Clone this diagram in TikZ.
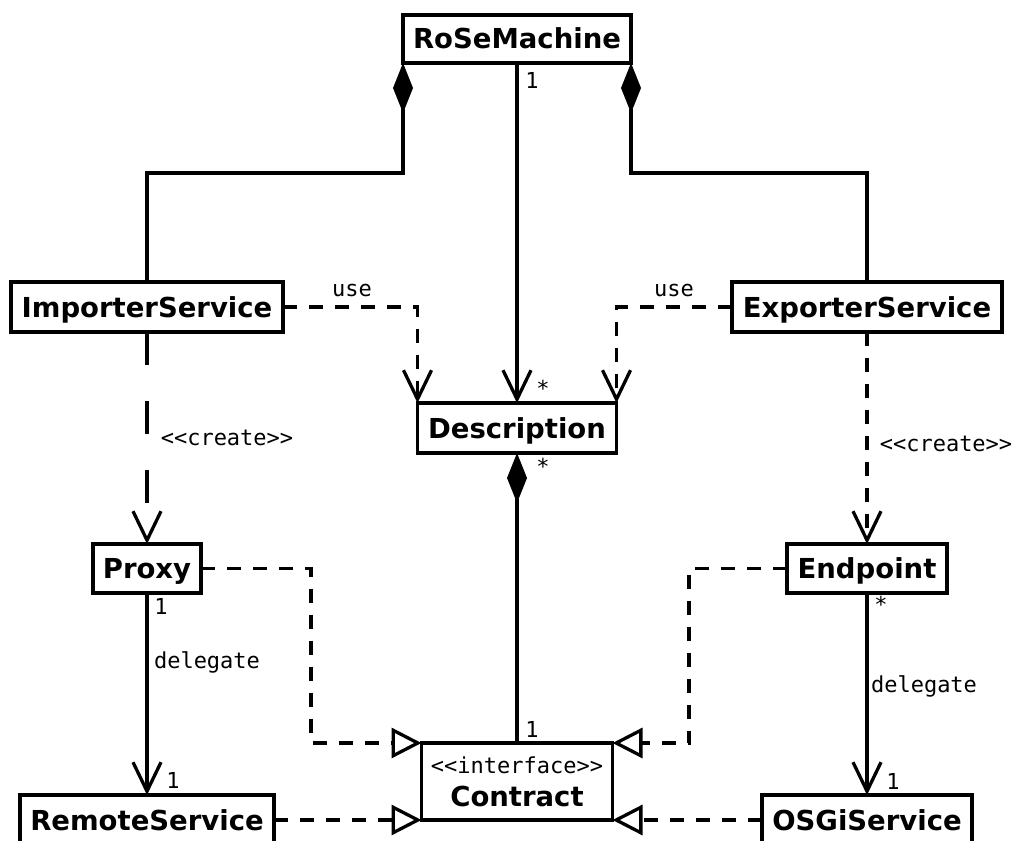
\documentclass[tikz,border=0pt]{standalone}
\usepackage{fontspec}
\setmainfont{DejaVu Sans}
\newfontfamily\monof{DejaVu Sans Mono}
\usetikzlibrary{arrows.meta}
\begin{document}
\begin{tikzpicture}[x=1pt,y=-1pt,
  cls/.style={draw, line width=3.6pt, inner sep=0pt, outer sep=0pt, fill=white,
    font=\bfseries\fontsize{27.5}{33}\selectfont, text height=20pt, text depth=0pt},
  lbl/.style={font=\monof\fontsize{22}{26}\selectfont, inner sep=0pt},
  conn/.style={line width=3.3pt},
  vee/.style={-{Straight Barb[length=29pt,width=28pt]}},
  tri/.style={-{Triangle[length=30pt,width=30pt,fill=white]}},
  comp/.style={{Diamond[length=50pt,width=20pt]}-},
  dsh/.style={dash pattern=on 14pt off 12pt},
  longdsh/.style={dash pattern=on 33pt off 36pt}]
\useasboundingbox (0,0) rectangle (1016,840);
\begin{scope}
\clip (0,0) rectangle (1016,840);
% classes
\node[cls, minimum width=228pt, minimum height=48pt] (ro) at (517,39) {RoSeMachine};
\node[cls, minimum width=272pt, minimum height=50pt] (imp) at (147,307) {ImporterService};
\node[cls, minimum width=270pt, minimum height=50pt] (exp) at (867,307) {ExporterService};
\node[cls, minimum width=199pt, minimum height=50pt] (desc) at (517,428) {Description};
\node[cls, minimum width=108pt, minimum height=49pt] (proxy) at (147,568.5) {Proxy};
\node[cls, minimum width=160pt, minimum height=49pt] (endp) at (867,568.5) {Endpoint};
\node[cls, minimum width=254pt, minimum height=50pt] (remote) at (147,820) {RemoteService};
\node[cls, minimum width=210pt, minimum height=50pt] (osgi) at (867,820) {OSGiService};
\node[draw, line width=3.6pt, inner sep=0pt, outer sep=0pt, fill=white,
  minimum width=191pt, minimum height=77pt, align=center,
  font=\fontsize{27.5}{33}\selectfont] (contract) at (517,781.5)
  {{\monof\fontsize{22}{33}\selectfont <{}<interface>{}>}\\{\bfseries Contract}};
% bend points
\coordinate (lb) at (403,173);
\coordinate (rb) at (631,173);
\coordinate (pk1) at (311,743);
\coordinate (pk2) at (689,743);
% compositions
\draw[conn, comp] (ro.south west) -- (lb) -| (imp.north);
\draw[conn, comp] (ro.south east) -- (rb) -| (exp.north);
\draw[conn, comp] (desc.south) -- (contract.north);
% associations
\draw[conn, vee] (ro.south) -- (desc.north);
\draw[conn, vee] (proxy.south) -- (remote.north);
\draw[conn, vee] (endp.south) -- (osgi.north);
% dependencies
\draw[conn, dsh, vee] (imp.east) -| (desc.north west);
\draw[conn, dsh, vee] (exp.west) -| (desc.north east);
\draw[conn, longdsh, vee] (imp.south) -- (proxy.north);
\draw[conn, dsh, vee] (exp.south) -- (endp.north);
% realizations
\draw[conn, dsh, tri] (proxy.east) -| (pk1) -- (contract.north west);
\draw[conn, dsh, tri] (endp.west) -| (pk2) -- (contract.north east);
\draw[conn, dsh, tri] (remote.east) -- (contract.south west);
\draw[conn, dsh, tri] (osgi.west) -- (contract.south east);
% labels
\node[lbl] (l1) at (532,80) {1};
\node[lbl] (l2) at (543,388) {*};
\node[lbl] (l3) at (543,466) {*};
\node[lbl] (l4) at (532,729) {1};
\node[lbl] (l5) at (352,290) {use};
\node[lbl] (l6) at (674,290) {use};
\node[lbl] (l7) at (227,438) {<{}<create>{}>};
\node[lbl] (l8) at (946,444) {<{}<create>{}>};
\node[lbl] (l9) at (161,606) {1};
\node[lbl] (l10) at (207,662) {delegate};
\node[lbl] (l11) at (173,780) {1};
\node[lbl] (l12) at (881,604) {*};
\node[lbl] (l13) at (924,686) {delegate};
\node[lbl] (l14) at (893,781) {1};
\end{scope}
\end{tikzpicture}
\end{document}
